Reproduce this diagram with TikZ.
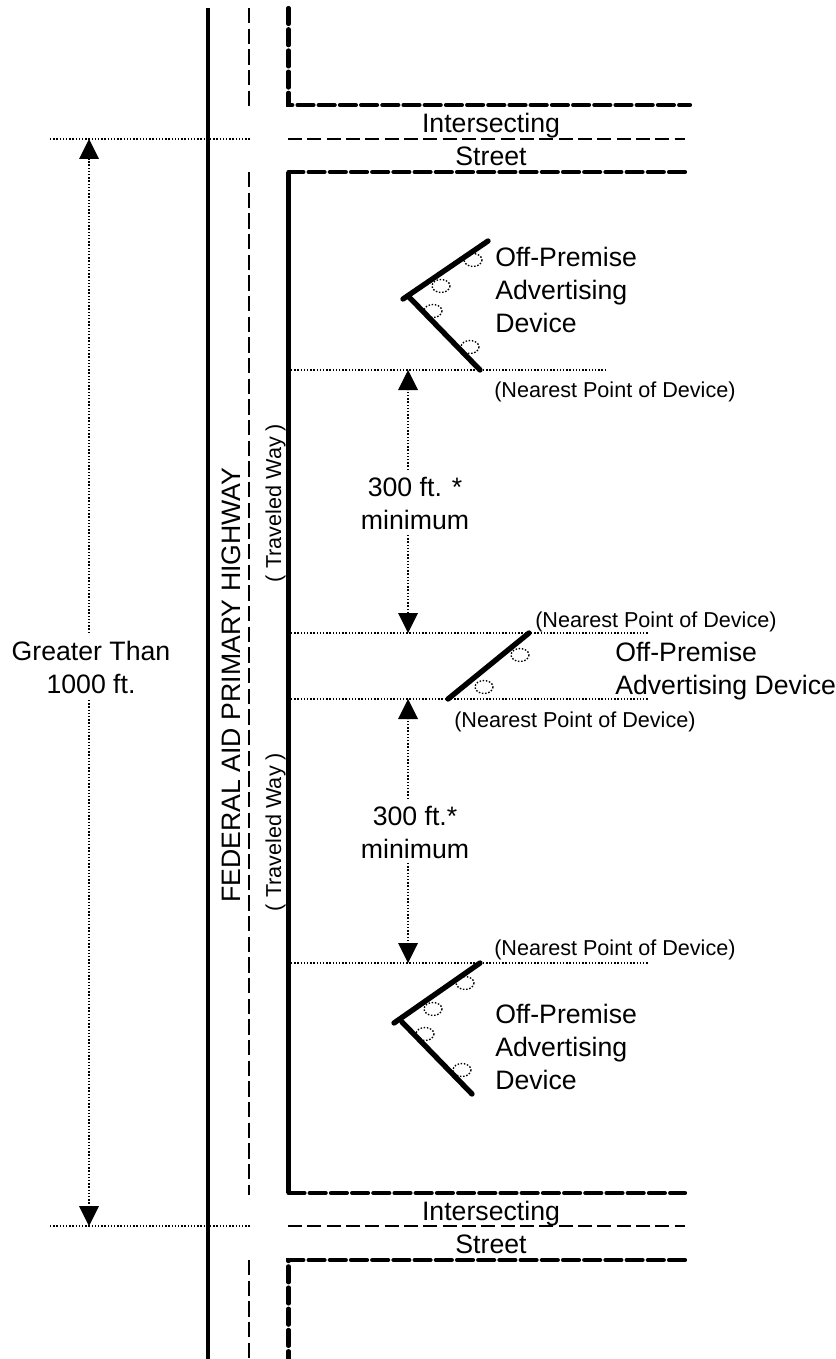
\documentclass[tikz,border=0pt]{standalone}
\usepackage{fontspec}
\setmainfont{Liberation Sans}
\usetikzlibrary{arrows.meta}
\tikzset{
 x=0.75pt,y=-0.75pt,
 road/.style={line width=3.1pt},
 curb/.style={line width=3.1pt,line cap=round,dash pattern=on 12pt off 3.9pt},
 center/.style={line width=1.25pt,dash pattern=on 11.5pt off 4pt},
 cross/.style={line width=1.25pt,dash pattern=on 10.5pt off 4pt},
 dim/.style={line width=1.1pt,dash pattern=on 1.1pt off 1.3pt},
 tipend/.style={dim,-{Triangle[width=15pt,length=15pt,line width=0pt,fill=black]}},
 sign/.style={line width=4pt,line cap=round},
 lamp/.style={draw,line width=1pt,dash pattern=on 1.1pt off 1.3pt},
 big/.style={anchor=base,inner sep=0pt,font=\fontsize{20pt}{24.7pt}\selectfont},
 small/.style={anchor=base,inner sep=0pt,font=\fontsize{16.2pt}{20pt}\selectfont},
 lft/.style={anchor=base west,inner sep=0pt,font=\fontsize{20pt}{24.7pt}\selectfont},
 nearest/.style={anchor=base west,inner sep=0pt,font=\fontsize{16.2pt}{20pt}\selectfont}
}
\newcommand{\lampat}[2]{\draw[lamp] (#1,#2) ellipse [x radius=9,y radius=6.5];}
\begin{document}
\begin{tikzpicture}
\useasboundingbox (0,0) rectangle (835,1359);
% named points
\coordinate (hwT) at (208,8); \coordinate (hwB) at (208,1359);
\coordinate (c1a) at (249,8); \coordinate (c1b) at (249,108);
\coordinate (c2a) at (249,172); \coordinate (c2b) at (249,1195);
\coordinate (c3a) at (249,1260); \coordinate (c3b) at (249,1359);
\coordinate (k1) at (288.5,8); \coordinate (k2) at (288.5,105); \coordinate (k3) at (690,105);
\coordinate (k4) at (685,172); \coordinate (k5) at (288.5,172); \coordinate (k6) at (288.5,1193); \coordinate (k7) at (685,1193);
\coordinate (k8) at (685,1260); \coordinate (k9) at (288.5,1260); \coordinate (k10) at (288.5,1359);
\coordinate (m1a) at (288,139); \coordinate (m1b) at (685,139);
\coordinate (m2a) at (288,1226); \coordinate (m2b) at (685,1226);
\coordinate (e1a) at (50,139); \coordinate (e1b) at (250,139);
\coordinate (e2a) at (50,1226); \coordinate (e2b) at (250,1226);
\coordinate (A1) at (89,139); \coordinate (A2) at (89,1226);
\coordinate (Am1) at (89,633); \coordinate (Am2) at (89,700);
\coordinate (d1a) at (291,370); \coordinate (d1b) at (606,370);
\coordinate (d2a) at (291,633); \coordinate (d2b) at (648,633);
\coordinate (d3a) at (291,699); \coordinate (d3b) at (648,699);
\coordinate (d4a) at (291,963); \coordinate (d4b) at (648,963);
\coordinate (B1) at (408,370); \coordinate (B2) at (408,633);
\coordinate (B3) at (408,699); \coordinate (B4) at (408,963);
\coordinate (b1) at (408,470); \coordinate (b2) at (408,535);
\coordinate (b3) at (408,799); \coordinate (b4) at (408,863);
% road lines
\draw[road] (hwT) -- (hwB);
\draw[center] (c1a) -- (c1b);
\draw[center] (c2a) -- (c2b);
\draw[center] (c3a) -- (c3b);
\draw[curb] (k1) -- (k2) -- (k3);
\draw[curb] (k4) -- (k5);
\draw[road] (k5) -- (k6);
\draw[curb] (k6) -- (k7);
\draw[curb] (k8) -- (k9) -- (k10);
\draw[cross] (m1a) -- (m1b);
\draw[cross] (m2a) -- (m2b);
% dimension lines
\foreach \a/\b in {e1a/e1b,e2a/e2b,d1a/d1b,d2a/d2b,d3a/d3b,d4a/d4b}{\draw[dim] (\a) -- (\b);}
\draw[tipend] (Am1) -- (A1);
\draw[tipend] (Am2) -- (A2);
\draw[tipend] (b1) -- (B1);
\draw[tipend] (b2) -- (B2);
\draw[tipend] (b3) -- (B3);
\draw[tipend] (b4) -- (B4);
% devices
\draw[sign] (403,299) -- (488,241);
\draw[sign] (409,297) -- (480,370);
\lampat{473}{260}\lampat{441}{286}\lampat{433}{311}\lampat{470}{347}
\draw[sign] (448,699) -- (529,633);
\lampat{520}{655}\lampat{484}{687}
\draw[sign] (394,1023) -- (480,963);
\draw[sign] (402,1022) -- (472,1094);
\lampat{465}{983}\lampat{433}{1009}\lampat{425}{1034}\lampat{462}{1070}
% text
\node[big] (is1) at (491,133) {Intersecting};
\node[big] (st1) at (491,166) {Street};
\node[big] (is2) at (491,1220.5) {Intersecting};
\node[big] (st2) at (491,1253) {Street};
\node[lft] (o1) at (495,266) {Off-Premise};
\node[lft] (o2) at (495,299) {Advertising};
\node[lft] (o3) at (495,332) {Device};
\node[lft] (o4) at (615,661) {Off-Premise};
\node[lft] (o5) at (615,694) {Advertising Device};
\node[lft] (o6) at (495,1023) {Off-Premise};
\node[lft] (o7) at (495,1056) {Advertising};
\node[lft] (o8) at (495,1089) {Device};
\node[nearest] (n1) at (494,397) {(Nearest Point of Device)};
\node[nearest] (n2) at (535,627) {(Nearest Point of Device)};
\node[nearest] (n3) at (454,727) {(Nearest Point of Device)};
\node[nearest] (n4) at (494,955) {(Nearest Point of Device)};
\node[big] (f1) at (415,496) {300 ft. *};
\node[big] (f2) at (415,529) {minimum};
\node[big] (f3) at (415,825) {300 ft.*};
\node[big] (f4) at (415,858) {minimum};
\node[big] (g1) at (91,660) {Greater Than};
\node[big] (g2) at (91,693) {1000 ft.};
\node[big,anchor=base,rotate=90] (h) at (240,685) {FEDERAL AID PRIMARY HIGHWAY};
\node[small,rotate=90] (t1) at (281,503) {( Traveled Way )};
\node[small,rotate=90] (t2) at (281,832) {( Traveled Way )};
\end{tikzpicture}
\end{document}
